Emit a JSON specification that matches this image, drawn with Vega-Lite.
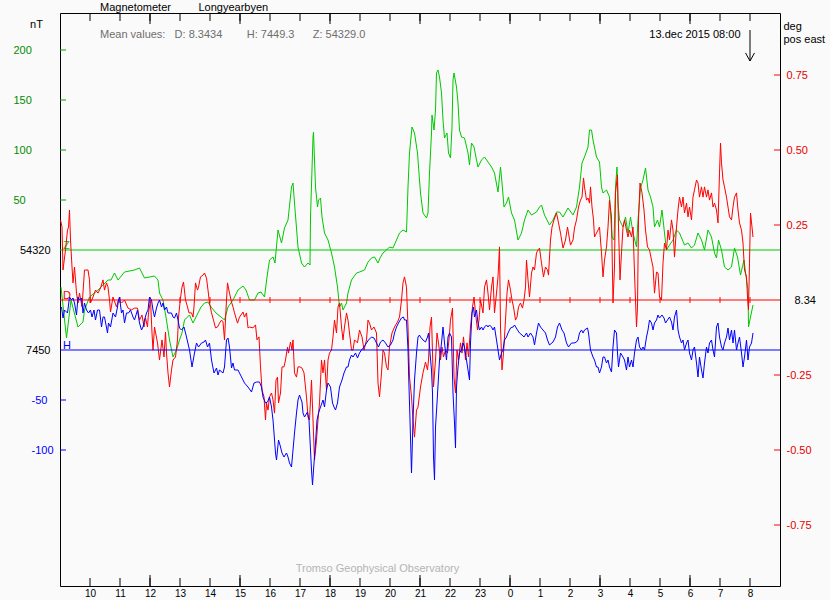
{
"$schema":"https://vega.github.io/schema/vega-lite/v6.json",
"width":720,"height":573,
"autosize":{"type":"none"},
"padding":{"left":60,"top":13,"right":50,"bottom":14},
"background":"#fafafa",
"title":{"text":"Magnetometer\u00a0\u00a0\u00a0\u00a0\u00a0\u00a0\u00a0\u00a0\u00a0Longyearbyen","subtitle":"Mean values:\u00a0\u00a0\u00a0D: 8.3434\u00a0\u00a0\u00a0\u00a0\u00a0\u00a0\u00a0\u00a0H: 7449.3\u00a0\u00a0\u00a0\u00a0\u00a0\u00a0Z: 54329.0","anchor":"start","frame":"group","dx":40,"offset":-27,"font":"Liberation Sans","fontSize":11,"fontWeight":"normal","color":"#000000","subtitleFont":"Liberation Sans","subtitleFontSize":11,"subtitleColor":"#6e6e6e","subtitlePadding":16},
"config":{"view":{"stroke":"#000000","strokeWidth":1},"axis":{"grid":false,"domain":false,"ticks":false,"labelFont":"Liberation Sans","labelFontSize":11,"titleFont":"Liberation Sans","titleFontSize":11,"titleFontWeight":"normal","titleColor":"#000000","labelColor":"#000000","labelFlush":false,"labelOverlap":false}},
"datasets":{
"hours":[{"m":60},{"m":120},{"m":180},{"m":240},{"m":300},{"m":360},{"m":420},{"m":480},{"m":540},{"m":600},{"m":660},{"m":720},{"m":780},{"m":840},{"m":900},{"m":960},{"m":1020},{"m":1080},{"m":1140},{"m":1200},{"m":1260},{"m":1320},{"m":1380}],
"hours3":[{"m":180},{"m":360},{"m":540},{"m":720},{"m":900},{"m":1080},{"m":1260}],
"Z":[{"m":2,"Z":54283},{"m":13,"Z":54232},{"m":22,"Z":54270},{"m":36,"Z":54243},{"m":46,"Z":54248},{"m":49,"Z":54260},{"m":59,"Z":54273},{"m":76,"Z":54280},{"m":96,"Z":54290},{"m":102,"Z":54290},{"m":109,"Z":54297},{"m":116,"Z":54290},{"m":129,"Z":54298},{"m":149,"Z":54300},{"m":159,"Z":54302},{"m":169,"Z":54292},{"m":189,"Z":54294},{"m":196,"Z":54290},{"m":199,"Z":54277},{"m":206,"Z":54270},{"m":212,"Z":54253},{"m":219,"Z":54230},{"m":226,"Z":54213},{"m":233,"Z":54220},{"m":239,"Z":54230},{"m":244,"Z":54237},{"m":249,"Z":54250},{"m":259,"Z":54255},{"m":266,"Z":54247},{"m":272,"Z":54253},{"m":282,"Z":54263},{"m":289,"Z":54267},{"m":296,"Z":54268},{"m":302,"Z":54263},{"m":312,"Z":54257},{"m":322,"Z":54253},{"m":329,"Z":54250},{"m":336,"Z":54263},{"m":346,"Z":54270},{"m":356,"Z":54280},{"m":366,"Z":54284},{"m":372,"Z":54280},{"m":379,"Z":54270},{"m":389,"Z":54270},{"m":396,"Z":54277},{"m":402,"Z":54278},{"m":409,"Z":54273},{"m":414,"Z":54293},{"m":419,"Z":54310},{"m":426,"Z":54313},{"m":430,"Z":54307},{"m":436,"Z":54340},{"m":443,"Z":54327},{"m":449,"Z":54342},{"m":456,"Z":54350},{"m":463,"Z":54383},{"m":466,"Z":54387},{"m":469,"Z":54367},{"m":476,"Z":54323},{"m":483,"Z":54307},{"m":489,"Z":54303},{"m":496,"Z":54307},{"m":500,"Z":54305},{"m":501,"Z":54353},{"m":506,"Z":54433},{"m":507,"Z":54438},{"m":511,"Z":54383},{"m":515,"Z":54363},{"m":517,"Z":54370},{"m":521,"Z":54372},{"m":524,"Z":54353},{"m":529,"Z":54337},{"m":536,"Z":54330},{"m":543,"Z":54317},{"m":549,"Z":54303},{"m":555,"Z":54283},{"m":559,"Z":54263},{"m":563,"Z":54267},{"m":566,"Z":54260},{"m":573,"Z":54267},{"m":576,"Z":54277},{"m":583,"Z":54290},{"m":593,"Z":54297},{"m":599,"Z":54298},{"m":609,"Z":54300},{"m":616,"Z":54308},{"m":623,"Z":54312},{"m":629,"Z":54313},{"m":636,"Z":54307},{"m":641,"Z":54313},{"m":646,"Z":54317},{"m":653,"Z":54320},{"m":659,"Z":54323},{"m":666,"Z":54322},{"m":673,"Z":54330},{"m":679,"Z":54337},{"m":686,"Z":54340},{"m":693,"Z":54338},{"m":696,"Z":54383},{"m":699,"Z":54417},{"m":704,"Z":54443},{"m":709,"Z":54437},{"m":715,"Z":54417},{"m":719,"Z":54390},{"m":721,"Z":54377},{"m":726,"Z":54357},{"m":733,"Z":54352},{"m":736,"Z":54357},{"m":739,"Z":54397},{"m":743,"Z":54437},{"m":744,"Z":54455},{"m":748,"Z":54440},{"m":751,"Z":54460},{"m":753,"Z":54497},{"m":756,"Z":54500},{"m":759,"Z":54493},{"m":763,"Z":54477},{"m":766,"Z":54450},{"m":769,"Z":54432},{"m":774,"Z":54437},{"m":777,"Z":54417},{"m":781,"Z":54412},{"m":784,"Z":54443},{"m":786,"Z":54490},{"m":788,"Z":54497},{"m":793,"Z":54483},{"m":796,"Z":54467},{"m":799,"Z":54440},{"m":803,"Z":54433},{"m":809,"Z":54432},{"m":816,"Z":54417},{"m":819,"Z":54405},{"m":823,"Z":54427},{"m":828,"Z":54423},{"m":833,"Z":54410},{"m":836,"Z":54403},{"m":843,"Z":54410},{"m":849,"Z":54413},{"m":856,"Z":54408},{"m":863,"Z":54403},{"m":869,"Z":54397},{"m":876,"Z":54378},{"m":881,"Z":54403},{"m":884,"Z":54387},{"m":888,"Z":54363},{"m":893,"Z":54367},{"m":897,"Z":54373},{"m":903,"Z":54357},{"m":909,"Z":54350},{"m":916,"Z":54330},{"m":923,"Z":54337},{"m":929,"Z":54350},{"m":936,"Z":54360},{"m":943,"Z":54355},{"m":953,"Z":54358},{"m":959,"Z":54363},{"m":963,"Z":54365},{"m":969,"Z":54355},{"m":979,"Z":54345},{"m":986,"Z":54350},{"m":993,"Z":54358},{"m":999,"Z":54358},{"m":1006,"Z":54353},{"m":1016,"Z":54362},{"m":1026,"Z":54355},{"m":1033,"Z":54363},{"m":1039,"Z":54383},{"m":1044,"Z":54407},{"m":1049,"Z":54413},{"m":1056,"Z":54423},{"m":1059,"Z":54440},{"m":1063,"Z":54440},{"m":1066,"Z":54430},{"m":1073,"Z":54413},{"m":1079,"Z":54408},{"m":1083,"Z":54383},{"m":1086,"Z":54377},{"m":1093,"Z":54380},{"m":1099,"Z":54373},{"m":1104,"Z":54333},{"m":1108,"Z":54330},{"m":1111,"Z":54383},{"m":1114,"Z":54403},{"m":1116,"Z":54367},{"m":1119,"Z":54350},{"m":1126,"Z":54343},{"m":1131,"Z":54353},{"m":1136,"Z":54337},{"m":1141,"Z":54353},{"m":1146,"Z":54337},{"m":1153,"Z":54323},{"m":1156,"Z":54350},{"m":1161,"Z":54382},{"m":1166,"Z":54390},{"m":1171,"Z":54402},{"m":1176,"Z":54380},{"m":1181,"Z":54373},{"m":1186,"Z":54363},{"m":1189,"Z":54343},{"m":1195,"Z":54350},{"m":1199,"Z":54343},{"m":1204,"Z":54360},{"m":1209,"Z":54337},{"m":1213,"Z":54320},{"m":1219,"Z":54325},{"m":1226,"Z":54330},{"m":1233,"Z":54340},{"m":1239,"Z":54337},{"m":1249,"Z":54325},{"m":1256,"Z":54327},{"m":1263,"Z":54322},{"m":1269,"Z":54325},{"m":1276,"Z":54337},{"m":1283,"Z":54330},{"m":1289,"Z":54320},{"m":1296,"Z":54340},{"m":1303,"Z":54333},{"m":1309,"Z":54317},{"m":1313,"Z":54312},{"m":1317,"Z":54330},{"m":1323,"Z":54320},{"m":1329,"Z":54303},{"m":1336,"Z":54300},{"m":1343,"Z":54303},{"m":1349,"Z":54322},{"m":1355,"Z":54313},{"m":1361,"Z":54295},{"m":1368,"Z":54310},{"m":1373,"Z":54290},{"m":1376,"Z":54280},{"m":1377,"Z":54243},{"m":1381,"Z":54253},{"m":1386,"Z":54265}],
"H":[{"m":3,"H":7493},{"m":6,"H":7482},{"m":9,"H":7490},{"m":15,"H":7487},{"m":19,"H":7503},{"m":23,"H":7500},{"m":26,"H":7502},{"m":29,"H":7497},{"m":33,"H":7485},{"m":36,"H":7503},{"m":39,"H":7500},{"m":43,"H":7502},{"m":46,"H":7487},{"m":49,"H":7497},{"m":53,"H":7490},{"m":57,"H":7487},{"m":61,"H":7490},{"m":64,"H":7483},{"m":68,"H":7490},{"m":71,"H":7480},{"m":75,"H":7490},{"m":79,"H":7490},{"m":83,"H":7473},{"m":86,"H":7483},{"m":89,"H":7483},{"m":95,"H":7467},{"m":97,"H":7477},{"m":101,"H":7473},{"m":106,"H":7487},{"m":111,"H":7483},{"m":115,"H":7493},{"m":117,"H":7500},{"m":119,"H":7503},{"m":123,"H":7487},{"m":126,"H":7490},{"m":129,"H":7477},{"m":133,"H":7487},{"m":137,"H":7487},{"m":141,"H":7490},{"m":146,"H":7483},{"m":149,"H":7480},{"m":155,"H":7490},{"m":159,"H":7477},{"m":163,"H":7470},{"m":166,"H":7473},{"m":169,"H":7480},{"m":173,"H":7487},{"m":176,"H":7490},{"m":179,"H":7503},{"m":183,"H":7500},{"m":186,"H":7490},{"m":189,"H":7483},{"m":193,"H":7492},{"m":196,"H":7497},{"m":199,"H":7500},{"m":203,"H":7493},{"m":206,"H":7497},{"m":209,"H":7490},{"m":213,"H":7493},{"m":216,"H":7487},{"m":223,"H":7487},{"m":226,"H":7483},{"m":229,"H":7482},{"m":233,"H":7487},{"m":236,"H":7480},{"m":239,"H":7472},{"m":243,"H":7470},{"m":248,"H":7473},{"m":253,"H":7463},{"m":259,"H":7450},{"m":264,"H":7433},{"m":269,"H":7447},{"m":273,"H":7457},{"m":277,"H":7453},{"m":283,"H":7457},{"m":288,"H":7458},{"m":291,"H":7460},{"m":295,"H":7453},{"m":299,"H":7457},{"m":303,"H":7440},{"m":308,"H":7427},{"m":313,"H":7432},{"m":316,"H":7425},{"m":319,"H":7430},{"m":326,"H":7427},{"m":329,"H":7433},{"m":333,"H":7460},{"m":336,"H":7462},{"m":339,"H":7453},{"m":343,"H":7432},{"m":346,"H":7437},{"m":349,"H":7430},{"m":356,"H":7430},{"m":363,"H":7423},{"m":369,"H":7417},{"m":376,"H":7413},{"m":383,"H":7408},{"m":388,"H":7417},{"m":393,"H":7418},{"m":399,"H":7418},{"m":403,"H":7413},{"m":406,"H":7403},{"m":411,"H":7397},{"m":415,"H":7398},{"m":419,"H":7403},{"m":423,"H":7393},{"m":426,"H":7380},{"m":428,"H":7367},{"m":431,"H":7347},{"m":433,"H":7340},{"m":437,"H":7360},{"m":440,"H":7355},{"m":444,"H":7347},{"m":448,"H":7343},{"m":453,"H":7347},{"m":456,"H":7343},{"m":459,"H":7337},{"m":463,"H":7333},{"m":466,"H":7350},{"m":469,"H":7367},{"m":473,"H":7387},{"m":476,"H":7400},{"m":479,"H":7405},{"m":484,"H":7398},{"m":486,"H":7387},{"m":489,"H":7383},{"m":495,"H":7388},{"m":498,"H":7380},{"m":500,"H":7360},{"m":503,"H":7330},{"m":505,"H":7315},{"m":507,"H":7330},{"m":511,"H":7357},{"m":514,"H":7380},{"m":517,"H":7387},{"m":521,"H":7393},{"m":526,"H":7400},{"m":529,"H":7393},{"m":533,"H":7410},{"m":536,"H":7417},{"m":541,"H":7413},{"m":545,"H":7397},{"m":548,"H":7393},{"m":551,"H":7390},{"m":555,"H":7397},{"m":559,"H":7413},{"m":564,"H":7420},{"m":568,"H":7427},{"m":573,"H":7433},{"m":576,"H":7433},{"m":579,"H":7440},{"m":583,"H":7445},{"m":586,"H":7443},{"m":591,"H":7447},{"m":595,"H":7442},{"m":599,"H":7447},{"m":603,"H":7450},{"m":608,"H":7453},{"m":613,"H":7457},{"m":617,"H":7460},{"m":623,"H":7463},{"m":628,"H":7462},{"m":633,"H":7457},{"m":637,"H":7453},{"m":641,"H":7458},{"m":646,"H":7460},{"m":651,"H":7457},{"m":656,"H":7453},{"m":661,"H":7455},{"m":666,"H":7460},{"m":669,"H":7467},{"m":673,"H":7473},{"m":678,"H":7478},{"m":683,"H":7482},{"m":687,"H":7483},{"m":689,"H":7480},{"m":693,"H":7480},{"m":696,"H":7450},{"m":698,"H":7413},{"m":700,"H":7380},{"m":703,"H":7327},{"m":706,"H":7380},{"m":709,"H":7420},{"m":713,"H":7447},{"m":716,"H":7463},{"m":719,"H":7465},{"m":721,"H":7463},{"m":726,"H":7460},{"m":731,"H":7458},{"m":735,"H":7463},{"m":737,"H":7467},{"m":740,"H":7447},{"m":743,"H":7430},{"m":745,"H":7407},{"m":747,"H":7343},{"m":749,"H":7320},{"m":751,"H":7373},{"m":754,"H":7397},{"m":757,"H":7423},{"m":759,"H":7440},{"m":763,"H":7457},{"m":766,"H":7473},{"m":769,"H":7457},{"m":773,"H":7440},{"m":776,"H":7463},{"m":779,"H":7467},{"m":783,"H":7463},{"m":786,"H":7407},{"m":789,"H":7377},{"m":791,"H":7352},{"m":793,"H":7413},{"m":796,"H":7433},{"m":799,"H":7447},{"m":803,"H":7450},{"m":806,"H":7457},{"m":809,"H":7453},{"m":813,"H":7440},{"m":816,"H":7430},{"m":819,"H":7420},{"m":821,"H":7457},{"m":824,"H":7487},{"m":827,"H":7493},{"m":829,"H":7483},{"m":833,"H":7490},{"m":836,"H":7477},{"m":839,"H":7470},{"m":843,"H":7473},{"m":846,"H":7470},{"m":849,"H":7473},{"m":853,"H":7475},{"m":856,"H":7473},{"m":859,"H":7475},{"m":863,"H":7473},{"m":866,"H":7470},{"m":869,"H":7473},{"m":873,"H":7460},{"m":876,"H":7450},{"m":879,"H":7440},{"m":883,"H":7447},{"m":886,"H":7450},{"m":889,"H":7460},{"m":893,"H":7463},{"m":896,"H":7467},{"m":901,"H":7472},{"m":906,"H":7473},{"m":909,"H":7475},{"m":915,"H":7470},{"m":919,"H":7467},{"m":924,"H":7465},{"m":928,"H":7463},{"m":933,"H":7467},{"m":936,"H":7463},{"m":941,"H":7467},{"m":946,"H":7463},{"m":949,"H":7455},{"m":953,"H":7467},{"m":957,"H":7477},{"m":961,"H":7473},{"m":966,"H":7470},{"m":971,"H":7467},{"m":975,"H":7460},{"m":979,"H":7455},{"m":986,"H":7458},{"m":991,"H":7463},{"m":995,"H":7473},{"m":999,"H":7477},{"m":1004,"H":7470},{"m":1008,"H":7467},{"m":1013,"H":7457},{"m":1017,"H":7453},{"m":1023,"H":7457},{"m":1028,"H":7457},{"m":1033,"H":7458},{"m":1036,"H":7460},{"m":1039,"H":7467},{"m":1043,"H":7470},{"m":1046,"H":7467},{"m":1049,"H":7470},{"m":1055,"H":7472},{"m":1057,"H":7467},{"m":1061,"H":7450},{"m":1066,"H":7443},{"m":1069,"H":7440},{"m":1073,"H":7433},{"m":1076,"H":7433},{"m":1079,"H":7427},{"m":1083,"H":7433},{"m":1086,"H":7443},{"m":1089,"H":7443},{"m":1093,"H":7437},{"m":1096,"H":7440},{"m":1099,"H":7433},{"m":1103,"H":7428},{"m":1106,"H":7453},{"m":1109,"H":7470},{"m":1113,"H":7467},{"m":1115,"H":7447},{"m":1117,"H":7433},{"m":1121,"H":7447},{"m":1126,"H":7443},{"m":1129,"H":7440},{"m":1133,"H":7430},{"m":1136,"H":7443},{"m":1139,"H":7433},{"m":1143,"H":7440},{"m":1146,"H":7433},{"m":1149,"H":7447},{"m":1153,"H":7460},{"m":1156,"H":7463},{"m":1159,"H":7453},{"m":1163,"H":7450},{"m":1166,"H":7453},{"m":1169,"H":7450},{"m":1173,"H":7463},{"m":1176,"H":7470},{"m":1179,"H":7480},{"m":1183,"H":7477},{"m":1186,"H":7470},{"m":1189,"H":7477},{"m":1193,"H":7480},{"m":1196,"H":7485},{"m":1199,"H":7482},{"m":1204,"H":7485},{"m":1208,"H":7482},{"m":1211,"H":7477},{"m":1215,"H":7480},{"m":1219,"H":7483},{"m":1223,"H":7478},{"m":1226,"H":7470},{"m":1229,"H":7483},{"m":1233,"H":7490},{"m":1236,"H":7470},{"m":1239,"H":7463},{"m":1243,"H":7457},{"m":1246,"H":7460},{"m":1249,"H":7450},{"m":1253,"H":7457},{"m":1256,"H":7460},{"m":1259,"H":7447},{"m":1263,"H":7440},{"m":1266,"H":7450},{"m":1269,"H":7453},{"m":1273,"H":7437},{"m":1276,"H":7423},{"m":1279,"H":7443},{"m":1283,"H":7430},{"m":1286,"H":7422},{"m":1289,"H":7437},{"m":1293,"H":7453},{"m":1296,"H":7447},{"m":1299,"H":7457},{"m":1303,"H":7460},{"m":1306,"H":7450},{"m":1309,"H":7443},{"m":1313,"H":7473},{"m":1316,"H":7477},{"m":1319,"H":7463},{"m":1323,"H":7453},{"m":1326,"H":7450},{"m":1329,"H":7457},{"m":1333,"H":7463},{"m":1336,"H":7472},{"m":1339,"H":7460},{"m":1343,"H":7470},{"m":1346,"H":7457},{"m":1349,"H":7470},{"m":1353,"H":7450},{"m":1356,"H":7457},{"m":1359,"H":7463},{"m":1363,"H":7447},{"m":1366,"H":7433},{"m":1369,"H":7443},{"m":1373,"H":7460},{"m":1376,"H":7440},{"m":1379,"H":7453},{"m":1383,"H":7457},{"m":1386,"H":7467}],
"D":[{"m":1,"D":8.607},{"m":4,"D":8.583},{"m":6,"D":8.44},{"m":11,"D":8.507},{"m":15,"D":8.573},{"m":17,"D":8.583},{"m":19,"D":8.64},{"m":21,"D":8.54},{"m":24,"D":8.45},{"m":26,"D":8.397},{"m":29,"D":8.45},{"m":33,"D":8.363},{"m":36,"D":8.33},{"m":39,"D":8.363},{"m":44,"D":8.317},{"m":49,"D":8.44},{"m":56,"D":8.44},{"m":59,"D":8.407},{"m":61,"D":8.33},{"m":66,"D":8.35},{"m":71,"D":8.373},{"m":76,"D":8.363},{"m":81,"D":8.38},{"m":86,"D":8.407},{"m":89,"D":8.373},{"m":93,"D":8.397},{"m":96,"D":8.383},{"m":99,"D":8.34},{"m":101,"D":8.3},{"m":106,"D":8.35},{"m":113,"D":8.317},{"m":117,"D":8.34},{"m":123,"D":8.33},{"m":129,"D":8.34},{"m":136,"D":8.313},{"m":143,"D":8.307},{"m":149,"D":8.313},{"m":155,"D":8.313},{"m":159,"D":8.273},{"m":164,"D":8.29},{"m":168,"D":8.25},{"m":171,"D":8.28},{"m":175,"D":8.25},{"m":177,"D":8.297},{"m":181,"D":8.34},{"m":184,"D":8.23},{"m":186,"D":8.173},{"m":189,"D":8.25},{"m":195,"D":8.197},{"m":199,"D":8.14},{"m":204,"D":8.207},{"m":208,"D":8.15},{"m":211,"D":8.233},{"m":213,"D":8.163},{"m":216,"D":8.097},{"m":219,"D":8.05},{"m":223,"D":8.107},{"m":226,"D":8.14},{"m":231,"D":8.15},{"m":235,"D":8.207},{"m":237,"D":8.283},{"m":241,"D":8.347},{"m":244,"D":8.383},{"m":247,"D":8.4},{"m":251,"D":8.34},{"m":255,"D":8.317},{"m":258,"D":8.297},{"m":263,"D":8.297},{"m":266,"D":8.283},{"m":268,"D":8.317},{"m":271,"D":8.397},{"m":275,"D":8.373},{"m":277,"D":8.383},{"m":281,"D":8.417},{"m":286,"D":8.423},{"m":289,"D":8.43},{"m":293,"D":8.413},{"m":296,"D":8.373},{"m":299,"D":8.33},{"m":303,"D":8.297},{"m":307,"D":8.273},{"m":311,"D":8.247},{"m":315,"D":8.25},{"m":319,"D":8.263},{"m":323,"D":8.273},{"m":326,"D":8.267},{"m":329,"D":8.207},{"m":333,"D":8.34},{"m":335,"D":8.397},{"m":339,"D":8.363},{"m":343,"D":8.333},{"m":346,"D":8.317},{"m":349,"D":8.297},{"m":355,"D":8.263},{"m":359,"D":8.283},{"m":366,"D":8.3},{"m":369,"D":8.283},{"m":373,"D":8.297},{"m":376,"D":8.247},{"m":379,"D":8.25},{"m":386,"D":8.247},{"m":391,"D":8.257},{"m":394,"D":8.207},{"m":398,"D":8.217},{"m":401,"D":8.117},{"m":404,"D":8.04},{"m":408,"D":8.017},{"m":411,"D":7.94},{"m":413,"D":7.997},{"m":416,"D":7.973},{"m":419,"D":8.017},{"m":423,"D":8.03},{"m":426,"D":8.007},{"m":429,"D":7.963},{"m":432,"D":8.073},{"m":435,"D":8.083},{"m":437,"D":7.997},{"m":441,"D":8.03},{"m":444,"D":8.117},{"m":448,"D":8.117},{"m":451,"D":8.14},{"m":455,"D":8.183},{"m":457,"D":8.163},{"m":461,"D":8.2},{"m":464,"D":8.173},{"m":466,"D":8.207},{"m":469,"D":8.097},{"m":473,"D":8.083},{"m":476,"D":8.117},{"m":480,"D":8.117},{"m":484,"D":8.113},{"m":488,"D":8.097},{"m":493,"D":8.017},{"m":496,"D":7.95},{"m":499,"D":7.94},{"m":503,"D":8.073},{"m":506,"D":7.94},{"m":509,"D":7.807},{"m":513,"D":7.873},{"m":516,"D":7.94},{"m":519,"D":7.997},{"m":523,"D":8.14},{"m":526,"D":8.097},{"m":529,"D":8.14},{"m":533,"D":8.04},{"m":536,"D":8.14},{"m":539,"D":8.163},{"m":543,"D":8.173},{"m":546,"D":8.217},{"m":549,"D":8.273},{"m":553,"D":8.23},{"m":556,"D":8.317},{"m":559,"D":8.33},{"m":563,"D":8.25},{"m":566,"D":8.207},{"m":569,"D":8.25},{"m":573,"D":8.297},{"m":576,"D":8.273},{"m":579,"D":8.23},{"m":583,"D":8.173},{"m":586,"D":8.173},{"m":589,"D":8.207},{"m":595,"D":8.197},{"m":599,"D":8.24},{"m":604,"D":8.217},{"m":608,"D":8.173},{"m":613,"D":8.207},{"m":616,"D":8.273},{"m":619,"D":8.263},{"m":623,"D":8.24},{"m":628,"D":8.25},{"m":633,"D":8.23},{"m":636,"D":8.063},{"m":639,"D":8.017},{"m":643,"D":8.097},{"m":646,"D":8.173},{"m":649,"D":8.163},{"m":653,"D":8.117},{"m":656,"D":8.107},{"m":659,"D":8.183},{"m":664,"D":8.23},{"m":669,"D":8.25},{"m":675,"D":8.267},{"m":679,"D":8.283},{"m":683,"D":8.34},{"m":686,"D":8.397},{"m":689,"D":8.417},{"m":693,"D":8.383},{"m":696,"D":8.25},{"m":699,"D":8.083},{"m":703,"D":8.017},{"m":706,"D":7.94},{"m":709,"D":7.883},{"m":713,"D":7.973},{"m":716,"D":7.983},{"m":721,"D":8.05},{"m":726,"D":8.097},{"m":731,"D":8.133},{"m":735,"D":8.107},{"m":737,"D":8.14},{"m":740,"D":8.25},{"m":743,"D":8.283},{"m":745,"D":8.163},{"m":747,"D":8.05},{"m":751,"D":8.14},{"m":754,"D":8.23},{"m":757,"D":8.197},{"m":761,"D":8.14},{"m":764,"D":8.183},{"m":767,"D":8.15},{"m":771,"D":8.173},{"m":775,"D":8.163},{"m":778,"D":8.207},{"m":781,"D":8.273},{"m":785,"D":8.313},{"m":788,"D":8.083},{"m":791,"D":8.03},{"m":794,"D":8.173},{"m":797,"D":8.14},{"m":801,"D":8.197},{"m":804,"D":8.163},{"m":807,"D":8.217},{"m":811,"D":8.14},{"m":814,"D":8.197},{"m":817,"D":8.15},{"m":821,"D":8.25},{"m":825,"D":8.317},{"m":828,"D":8.35},{"m":831,"D":8.297},{"m":835,"D":8.24},{"m":838,"D":8.273},{"m":841,"D":8.34},{"m":846,"D":8.297},{"m":849,"D":8.383},{"m":853,"D":8.407},{"m":856,"D":8.363},{"m":859,"D":8.307},{"m":863,"D":8.383},{"m":866,"D":8.417},{"m":869,"D":8.297},{"m":873,"D":8.363},{"m":876,"D":8.417},{"m":879,"D":8.517},{"m":881,"D":8.25},{"m":884,"D":8.107},{"m":887,"D":8.163},{"m":891,"D":8.273},{"m":894,"D":8.363},{"m":897,"D":8.407},{"m":901,"D":8.373},{"m":904,"D":8.34},{"m":907,"D":8.317},{"m":911,"D":8.273},{"m":914,"D":8.283},{"m":917,"D":8.317},{"m":921,"D":8.33},{"m":925,"D":8.313},{"m":928,"D":8.34},{"m":931,"D":8.383},{"m":933,"D":8.473},{"m":936,"D":8.407},{"m":939,"D":8.35},{"m":943,"D":8.43},{"m":946,"D":8.45},{"m":949,"D":8.44},{"m":953,"D":8.497},{"m":956,"D":8.507},{"m":959,"D":8.513},{"m":963,"D":8.463},{"m":967,"D":8.417},{"m":971,"D":8.45},{"m":975,"D":8.44},{"m":977,"D":8.423},{"m":981,"D":8.54},{"m":984,"D":8.583},{"m":988,"D":8.607},{"m":993,"D":8.63},{"m":997,"D":8.597},{"m":1001,"D":8.563},{"m":1006,"D":8.513},{"m":1011,"D":8.54},{"m":1015,"D":8.583},{"m":1017,"D":8.563},{"m":1021,"D":8.523},{"m":1026,"D":8.54},{"m":1029,"D":8.58},{"m":1033,"D":8.607},{"m":1037,"D":8.65},{"m":1041,"D":8.673},{"m":1044,"D":8.683},{"m":1047,"D":8.747},{"m":1049,"D":8.717},{"m":1053,"D":8.673},{"m":1056,"D":8.68},{"m":1059,"D":8.663},{"m":1061,"D":8.717},{"m":1064,"D":8.65},{"m":1067,"D":8.607},{"m":1069,"D":8.55},{"m":1073,"D":8.563},{"m":1076,"D":8.573},{"m":1079,"D":8.583},{"m":1083,"D":8.497},{"m":1086,"D":8.417},{"m":1089,"D":8.473},{"m":1093,"D":8.517},{"m":1096,"D":8.583},{"m":1099,"D":8.673},{"m":1103,"D":8.617},{"m":1106,"D":8.33},{"m":1109,"D":8.45},{"m":1111,"D":8.697},{"m":1115,"D":8.757},{"m":1117,"D":8.583},{"m":1120,"D":8.407},{"m":1123,"D":8.497},{"m":1126,"D":8.583},{"m":1129,"D":8.607},{"m":1133,"D":8.573},{"m":1136,"D":8.55},{"m":1139,"D":8.573},{"m":1143,"D":8.55},{"m":1146,"D":8.583},{"m":1149,"D":8.43},{"m":1153,"D":8.25},{"m":1155,"D":8.317},{"m":1157,"D":8.607},{"m":1160,"D":8.73},{"m":1164,"D":8.697},{"m":1168,"D":8.64},{"m":1171,"D":8.573},{"m":1175,"D":8.517},{"m":1179,"D":8.507},{"m":1183,"D":8.473},{"m":1186,"D":8.45},{"m":1189,"D":8.363},{"m":1193,"D":8.433},{"m":1196,"D":8.43},{"m":1199,"D":8.35},{"m":1203,"D":8.34},{"m":1206,"D":8.463},{"m":1209,"D":8.53},{"m":1213,"D":8.507},{"m":1216,"D":8.573},{"m":1219,"D":8.54},{"m":1223,"D":8.607},{"m":1226,"D":8.573},{"m":1229,"D":8.483},{"m":1233,"D":8.583},{"m":1236,"D":8.64},{"m":1239,"D":8.683},{"m":1243,"D":8.65},{"m":1246,"D":8.683},{"m":1249,"D":8.63},{"m":1253,"D":8.663},{"m":1256,"D":8.617},{"m":1259,"D":8.65},{"m":1263,"D":8.607},{"m":1266,"D":8.683},{"m":1269,"D":8.707},{"m":1273,"D":8.74},{"m":1276,"D":8.73},{"m":1279,"D":8.683},{"m":1283,"D":8.717},{"m":1286,"D":8.683},{"m":1289,"D":8.717},{"m":1293,"D":8.683},{"m":1296,"D":8.707},{"m":1299,"D":8.673},{"m":1303,"D":8.697},{"m":1306,"D":8.65},{"m":1309,"D":8.663},{"m":1313,"D":8.64},{"m":1316,"D":8.597},{"m":1319,"D":8.763},{"m":1321,"D":8.863},{"m":1323,"D":8.797},{"m":1326,"D":8.74},{"m":1329,"D":8.717},{"m":1333,"D":8.683},{"m":1336,"D":8.65},{"m":1339,"D":8.617},{"m":1343,"D":8.607},{"m":1346,"D":8.65},{"m":1349,"D":8.683},{"m":1353,"D":8.697},{"m":1356,"D":8.64},{"m":1359,"D":8.597},{"m":1363,"D":8.573},{"m":1366,"D":8.53},{"m":1369,"D":8.44},{"m":1373,"D":8.417},{"m":1375,"D":8.35},{"m":1377,"D":8.307},{"m":1379,"D":8.463},{"m":1381,"D":8.63},{"m":1384,"D":8.583},{"m":1386,"D":8.55}]
},
"resolve":{"scale":{"y":"independent"},"axis":{"x":"independent","y":"independent"}},
"layer":[
{"data":{"name":"Z"},
 "resolve":{"axis":{"x":"independent","y":"independent"}},
 "layer":[
  {"mark":{"type":"line","color":"#00c800","strokeWidth":1},
   "encoding":{
    "x":{"field":"m","type":"quantitative","scale":{"domain":[0,1440]},"axis":{"orient":"bottom","values":[60,120,180,240,300,360,420,480,540,600,660,720,780,840,900,960,1020,1080,1140,1200,1260,1320,1380],"labelFontSize":10,"labelPadding":2,"labelExpr":"'' + ((9 + datum.value / 60) % 24)","title":"Tromso Geophysical Observatory","titleColor":"#b4b4b4","titleX":317,"titleY":-18,"titleAlign":"center","titleBaseline":"middle"}},
    "y":{"field":"Z","type":"quantitative","scale":{"domain":[53984,54557]},"axis":{"orient":"left","values":[54520,54470,54420,54370],"labelColor":"#008c00","labelAlign":"left","labelPadding":47,"labelExpr":"'' + (datum.value - 54320)","title":"nT","titleAngle":0,"titleX":-24,"titleY":11,"titleAlign":"center","titleBaseline":"middle"}}
   }},
  {"data":{"values":[{}]},"mark":{"type":"rule","color":"#00c800","strokeWidth":1},
   "encoding":{"y":{"datum":54320,"type":"quantitative","scale":{"domain":[53984,54557]},"axis":{"orient":"left","values":[54320],"labelPadding":10,"labelExpr":"'54320'","title":null}}}},
  {"data":{"values":[{"Z":54520},{"Z":54470},{"Z":54420},{"Z":54370}]},"mark":{"type":"tick","orient":"horizontal","size":6,"thickness":1,"color":"#00a000","opacity":1},
   "encoding":{"y":{"field":"Z","type":"quantitative","scale":{"domain":[53984,54557]},"axis":null},"x":{"datum":6,"type":"quantitative","scale":{"domain":[0,1440]},"axis":null}}},
  {"data":{"name":"hours"},"mark":{"type":"tick","orient":"vertical","size":8,"thickness":1,"color":"#000000","opacity":1},
   "encoding":{"x":{"field":"m","type":"quantitative","scale":{"domain":[0,1440]},"axis":null},"y":{"datum":53988,"type":"quantitative","scale":{"domain":[53984,54557]},"axis":null}}},
  {"data":{"name":"hours3"},"mark":{"type":"tick","orient":"vertical","size":11,"thickness":1,"color":"#000000","opacity":1},
   "encoding":{"x":{"field":"m","type":"quantitative","scale":{"domain":[0,1440]},"axis":null},"y":{"datum":53989.5,"type":"quantitative","scale":{"domain":[53984,54557]},"axis":null}}},
  {"data":{"name":"hours"},"mark":{"type":"tick","orient":"vertical","size":8,"thickness":1,"color":"#000000","opacity":1},
   "encoding":{"x":{"field":"m","type":"quantitative","scale":{"domain":[0,1440]},"axis":null},"y":{"datum":54553,"type":"quantitative","scale":{"domain":[53984,54557]},"axis":null}}},
  {"data":{"name":"hours3"},"mark":{"type":"tick","orient":"vertical","size":11,"thickness":1,"color":"#000000","opacity":1},
   "encoding":{"x":{"field":"m","type":"quantitative","scale":{"domain":[0,1440]},"axis":null},"y":{"datum":54551.5,"type":"quantitative","scale":{"domain":[53984,54557]},"axis":null}}},
  {"data":{"values":[{}]},"mark":{"type":"text","text":"Z","color":"#00c800","align":"left","baseline":"alphabetic","dy":-1,"font":"Liberation Sans","fontSize":11},
   "encoding":{"x":{"datum":6,"type":"quantitative","scale":{"domain":[0,1440]},"axis":null},"y":{"datum":54320,"type":"quantitative","scale":{"domain":[53984,54557]},"axis":null}}},
  {"data":{"values":[{}]},"mark":{"type":"rule","color":"#000000","strokeWidth":1},
   "encoding":{"x":{"datum":1380,"type":"quantitative","scale":{"domain":[0,1440]},"axis":null},"y":{"datum":54540,"type":"quantitative","scale":{"domain":[53984,54557]},"axis":null},"y2":{"datum":54509}}},
  {"data":{"values":[{}]},"mark":{"type":"point","shape":"M-1,-1.8L0,0L1,-1.8","size":81,"filled":false,"stroke":"#000000","strokeWidth":1,"opacity":1},
   "encoding":{"x":{"datum":1380,"type":"quantitative","scale":{"domain":[0,1440]},"axis":null},"y":{"datum":54509,"type":"quantitative","scale":{"domain":[53984,54557]},"axis":null}}}
 ]},
{"data":{"name":"D"},
 "resolve":{"axis":{"x":"independent","y":"independent"}},
 "layer":[
  {"mark":{"type":"line","color":"#ff0000","strokeWidth":1},
   "encoding":{
    "x":{"field":"m","type":"quantitative","scale":{"domain":[0,1440]},"axis":null},
    "y":{"field":"D","type":"quantitative","scale":{"domain":[7.38667,9.29667]},"axis":{"orient":"right","values":[9.09,8.84,8.59,8.09,7.84,7.59],"labelColor":"#e60000","labelAlign":"left","labelPadding":6,"labelExpr":"(datum.value < 8.34 ? '-' : '') + format(abs(datum.value - 8.34), '.2f')","title":["deg","pos east"],"titleAngle":0,"titleX":3,"titleY":7,"titleAlign":"left","titleBaseline":"top","titleLineHeight":13}}
   }},
  {"data":{"values":[{}]},"mark":{"type":"rule","color":"#ff0000","strokeWidth":1},
   "encoding":{"y":{"datum":8.34,"type":"quantitative","scale":{"domain":[7.38667,9.29667]},"axis":{"orient":"right","values":[8.34],"labelPadding":14,"labelExpr":"'8.34'","title":null}}}},
  {"data":{"name":"hours"},"mark":{"type":"rule","color":"#ff0000","strokeWidth":1},
   "encoding":{"x":{"field":"m","type":"quantitative","scale":{"domain":[0,1440]},"axis":null},"y":{"datum":8.33,"type":"quantitative","scale":{"domain":[7.38667,9.29667]},"axis":null},"y2":{"datum":8.35}}},
  {"data":{"values":[{"D":9.09},{"D":8.84},{"D":8.59},{"D":8.09},{"D":7.84},{"D":7.59}]},"mark":{"type":"tick","orient":"horizontal","size":6,"thickness":1,"color":"#ff0000","opacity":1},
   "encoding":{"y":{"field":"D","type":"quantitative","scale":{"domain":[7.38667,9.29667]},"axis":null},"x":{"datum":1434,"type":"quantitative","scale":{"domain":[0,1440]},"axis":null}}},
  {"data":{"values":[{}]},"mark":{"type":"text","text":"D","color":"#ff0000","align":"left","baseline":"alphabetic","dy":-1,"font":"Liberation Sans","fontSize":11},
   "encoding":{"x":{"datum":6,"type":"quantitative","scale":{"domain":[0,1440]},"axis":null},"y":{"datum":8.34,"type":"quantitative","scale":{"domain":[7.38667,9.29667]},"axis":null}}}
 ]},
{"data":{"name":"H"},
 "resolve":{"axis":{"x":"independent","y":"independent"}},
 "layer":[
  {"mark":{"type":"line","color":"#0000ff","strokeWidth":1},
   "encoding":{
    "x":{"field":"m","type":"quantitative","scale":{"domain":[0,1440]},"axis":{"orient":"top","values":[60],"labels":false,"title":"13.dec 2015 08:00","titleX":680,"titleY":21,"titleAlign":"right","titleBaseline":"middle","titleColor":"#000000"}},
    "y":{"field":"H","type":"quantitative","scale":{"domain":[7214,7787]},"axis":{"orient":"left","values":[7400,7350],"labelColor":"#0000ff","labelAlign":"left","labelPadding":29,"labelExpr":"'' + (datum.value - 7450)","title":null}}
   }},
  {"data":{"values":[{}]},"mark":{"type":"rule","color":"#0000ff","strokeWidth":1},
   "encoding":{"y":{"datum":7450,"type":"quantitative","scale":{"domain":[7214,7787]},"axis":{"orient":"left","values":[7450],"labelPadding":10,"labelExpr":"'7450'","title":null}}}},
  {"data":{"values":[{"H":7400},{"H":7350}]},"mark":{"type":"tick","orient":"horizontal","size":6,"thickness":1,"color":"#0000ff","opacity":1},
   "encoding":{"y":{"field":"H","type":"quantitative","scale":{"domain":[7214,7787]},"axis":null},"x":{"datum":6,"type":"quantitative","scale":{"domain":[0,1440]},"axis":null}}},
  {"data":{"values":[{}]},"mark":{"type":"text","text":"H","color":"#0000ff","align":"left","baseline":"alphabetic","dy":-1,"font":"Liberation Sans","fontSize":11},
   "encoding":{"x":{"datum":6,"type":"quantitative","scale":{"domain":[0,1440]},"axis":null},"y":{"datum":7450,"type":"quantitative","scale":{"domain":[7214,7787]},"axis":null}}}
 ]}
]
}
